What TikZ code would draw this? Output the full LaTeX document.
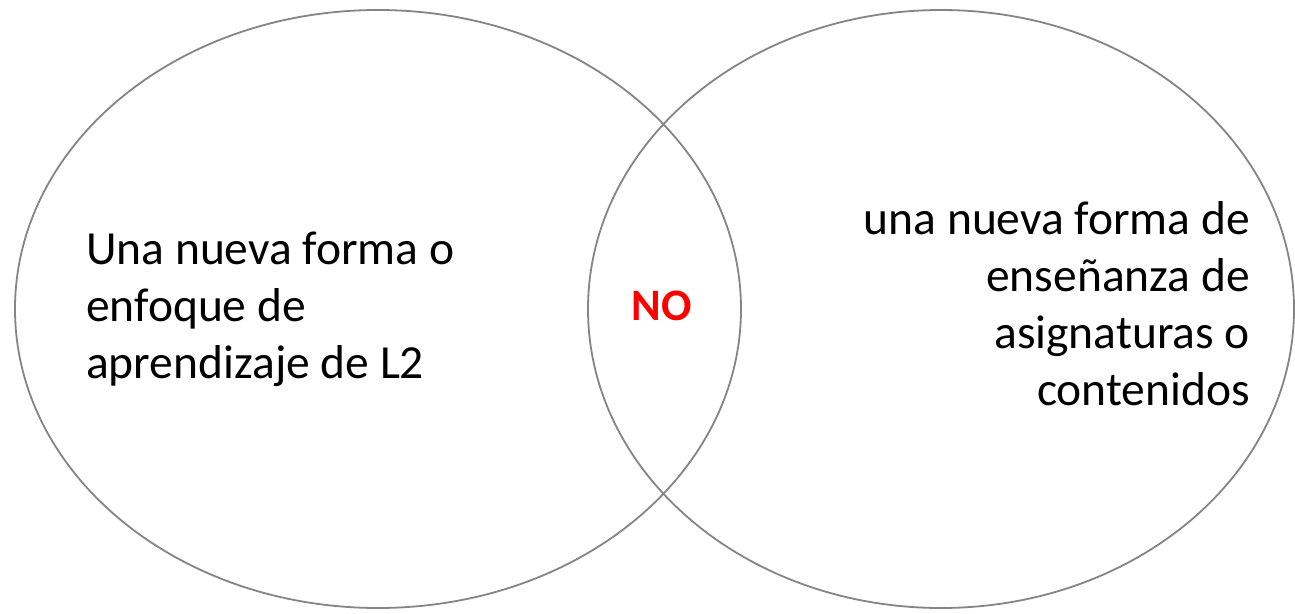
\documentclass[tikz,border=0pt]{standalone}
\usepackage{fontspec}
\setmainfont{Carlito}
\usetikzlibrary{shapes.geometric}
\definecolor{ringgray}{HTML}{858585}
\definecolor{nored}{HTML}{FF0000}
\tikzset{
  ring/.style={ellipse, draw=ringgray, line width=1.8pt, inner sep=0pt},
  bigtext/.style={inner sep=0pt, font=\fontsize{47.5}{57}\selectfont},
}
\begin{document}
\begin{tikzpicture}[x=1pt,y=-1pt]
\useasboundingbox[fill=white] (0,0) rectangle (1295,613);
\node[ring, minimum width=726pt, minimum height=598pt] (left) at (378,309) {};
\node[ring, minimum width=706pt, minimum height=598pt] (right) at (941,309) {};
\node[bigtext, anchor=west, align=left] (ltext) at (86,309) {Una nueva forma o\\enfoque de\\aprendizaje de L2};
\node[bigtext, anchor=east, align=right] (rtext) at (1250,304) {una nueva forma de\\enseñanza de\\asignaturas o\\contenidos};
\node[inner sep=0pt, text=nored, font=\fontsize{45}{57}\selectfont\bfseries] (no) at (662,306) {NO};
\end{tikzpicture}
\end{document}
